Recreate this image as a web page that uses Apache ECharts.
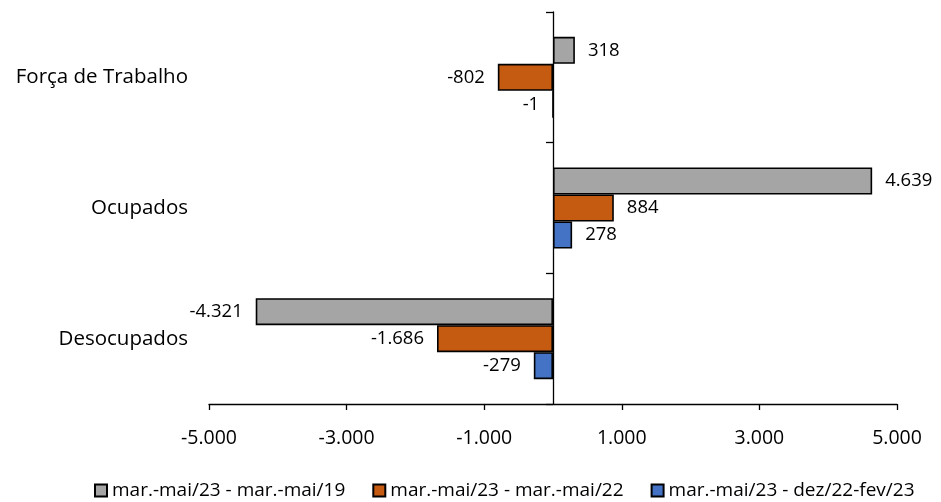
<!DOCTYPE html>
<html>
<head>
<meta charset="utf-8">
<script src="https://cdn.jsdelivr.net/npm/echarts@6/dist/echarts.min.js"></script>
<style>html,body{margin:0;padding:0;background:#fff}#c{width:941px;height:502px}</style>
</head>
<body>
<div id="c"></div>
<script>
const categories = ['Força de Trabalho', 'Ocupados', 'Desocupados'];
const seriesNames = ['mar.-mai/23 - mar.-mai/19', 'mar.-mai/23 - mar.-mai/22', 'mar.-mai/23 - dez/22-fev/23'];
const s1 = [318, 4639, -4321];
const s2 = [-802, 884, -1686];
const s3 = [-1, 278, -279];
const xTicks = [-5000, 5000, 2000];
const colors = ['#A5A5A5', '#C55A11', '#4472C4'];

const FONT = 'Open Sans';
function fmt(v) {
  const s = Math.abs(Math.round(v)).toString().replace(/\B(?=(\d{3})+(?!\d))/g, '.');
  return (v < 0 ? '-' : '') + s;
}
function mk(arr) {
  return arr.map(v => ({ value: v, label: { position: v < 0 ? 'left' : 'right' } }));
}
const chart = echarts.init(document.getElementById('c'), null, { renderer: 'canvas' });
const seriesData = [s1, s2, s3];
chart.setOption({
  animation: false,
  textStyle: { fontFamily: FONT },
  grid: { left: 209, right: 44, top: 12, bottom: 98, containLabel: false },
  legend: {
    top: 476, left: 89,
    itemWidth: 12, itemHeight: 12, itemGap: 27,
    icon: 'rect',
    textStyle: { fontFamily: FONT, fontSize: 19, color: '#000' },
    data: seriesNames
  },
  xAxis: {
    type: 'value', min: xTicks[0], max: xTicks[1], interval: xTicks[2],
    splitLine: { show: false },
    axisLine: { show: true, onZero: false, lineStyle: { color: '#000', width: 1.3 } },
    axisTick: { show: true, length: 6, lineStyle: { color: '#000', width: 1.3 } },
    axisLabel: { color: '#000', fontSize: 19.5, fontFamily: FONT, margin: 24, formatter: fmt }
  },
  yAxis: [
    {
      type: 'category', data: categories, inverse: true, position: 'left',
      axisLine: { show: false, onZero: false },
      axisTick: { show: false },
      axisLabel: { color: '#000', fontSize: 20.5, fontFamily: FONT, margin: 21 }
    },
    {
      type: 'category', data: categories, inverse: true, position: 'left',
      axisLine: { show: true, onZero: true, lineStyle: { color: '#000', width: 1.3 } },
      axisTick: { show: true, length: 7, lineStyle: { color: '#000', width: 1.3 } },
      axisLabel: { show: false }
    }
  ],
  series: seriesData.map((d, i) => ({
    name: seriesNames[i], type: 'bar', yAxisIndex: 0,
    data: mk(d),
    barWidth: 27, barGap: '0%',
    itemStyle: { color: colors[i], borderColor: '#000', borderWidth: 1.6 },
    label: { show: true, distance: 13, color: '#000', fontSize: 18.5, fontFamily: FONT, formatter: p => fmt(p.value) }
  }))
});
</script>
</body>
</html>
